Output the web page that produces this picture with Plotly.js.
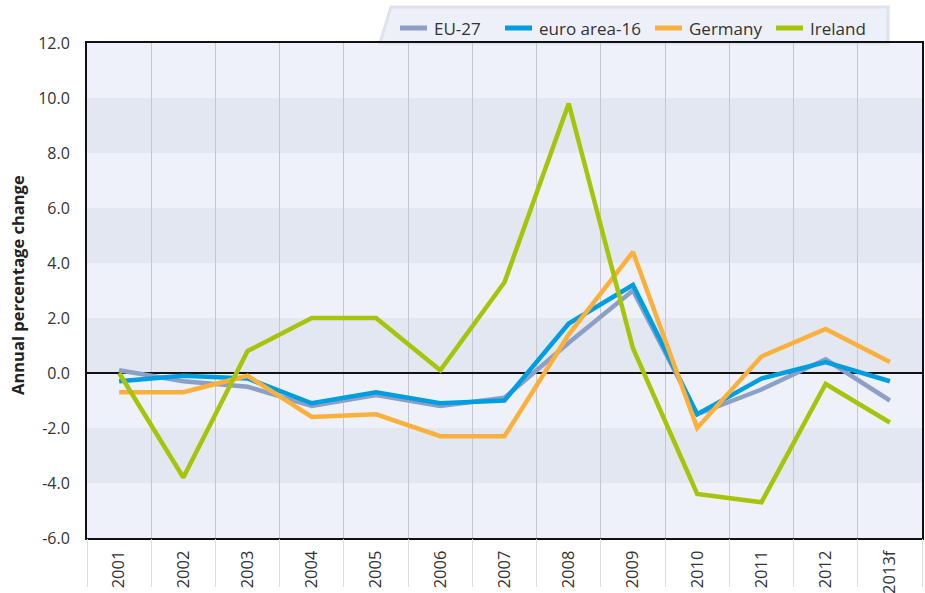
<!DOCTYPE html>
<html>
<head>
<meta charset="utf-8">
<script src="https://cdn.plot.ly/plotly-3.0.1.min.js"></script>
<style>html,body{margin:0;padding:0;background:#fff;}#chart{width:925px;height:593px;}</style>
</head>
<body>
<div id="chart"></div>
<script>
var years = ["2001","2002","2003","2004","2005","2006","2007","2008","2009","2010","2011","2012","2013f"];
var eu27 = [0.1,-0.3,-0.5,-1.2,-0.8,-1.2,-0.9,1.1,3.0,-1.5,-0.6,0.5,-1.0];
var euroArea16 = [-0.3,-0.1,-0.2,-1.1,-0.7,-1.1,-1.0,1.8,3.2,-1.5,-0.2,0.4,-0.3];
var germany = [-0.7,-0.7,-0.1,-1.6,-1.5,-2.3,-2.3,1.4,4.4,-2.0,0.6,1.6,0.4];
var ireland = [0.0,-3.8,0.8,2.0,2.0,0.1,3.3,9.8,0.9,-4.4,-4.7,-0.4,-1.8];
var seriesNames = ["EU-27","euro area-16","Germany","Ireland"];
var yTicks = [-6,-4,-2,0,2,4,6,8,10,12];
var darkBands = [[-4,-2],[0,2],[4,6],[8,10]];

var colors = ["#8c9fc6","#009ee0","#fbb03b","#a6c40a"];
var allSeries = [eu27, euroArea16, germany, ireland];
var font = "'Open Sans', 'DejaVu Sans', sans-serif";

var traces = allSeries.map(function(s, i){
  return {x: years, y: s, type: "scatter", mode: "lines", name: seriesNames[i],
          line: {color: colors[i], width: 4.5}, showlegend:false};
});
// helper trace so the separator axis (x2) is drawn; it has no visible marks
traces.unshift({x: years, y: years.map(function(){return null;}), xaxis:"x2", yaxis:"y",
  type:"scatter", mode:"lines", showlegend:false, hoverinfo:"skip"});

function px(x){return (x-87)/835;}
function py(y){return (538-y)/495;}

var shapes = darkBands.map(function(b){
  return {type:"rect", xref:"paper", yref:"y", x0:0, x1:1, y0:b[0], y1:b[1],
          fillcolor:"#e2e7f1", line:{width:0}, layer:"below"};
});
// legend backdrop (trapezoid above the plot)
shapes.push({type:"path", xref:"paper", yref:"paper",
  path:"M "+px(380)+" "+py(43)+" L "+px(391)+" "+py(7)+" L "+px(888)+" "+py(7)+" L "+px(888)+" "+py(43)+" Z",
  fillcolor:"#edf0f8", line:{color:"#dde2ee", width:3}, layer:"below"});

var annotations = [{text:"<b>Annual percentage change</b>", xref:"paper", yref:"paper",
    x:px(17), y:py(285), xanchor:"center", yanchor:"middle", textangle:-90, showarrow:false,
    font:{family:font, size:16.5, color:"#222"}}];

// manual legend
var legSym = [400, 505, 655, 776];
seriesNames.forEach(function(n, i){
  shapes.push({type:"line", xref:"paper", yref:"paper", x0:px(legSym[i]), x1:px(legSym[i]+27),
    y0:py(28), y1:py(28), line:{color:colors[i], width:5}});
  annotations.push({text:n, xref:"paper", yref:"paper", x:px(legSym[i]+32), y:py(28),
    xanchor:"left", yanchor:"middle", showarrow:false,
    font:{family:font, size:17, color:"#333"}});
});

var layout = {
  width:925, height:593,
  margin:{l:87, r:3, t:43, b:55},
  paper_bgcolor:"#ffffff",
  plot_bgcolor:"#eef1f9",
  font:{family:font, size:16, color:"#333333"},
  showlegend:false,
  xaxis:{type:"category", range:[-0.5,12.5], tickson:"boundaries", showgrid:true,
         gridcolor:"#c3c7d0", gridwidth:1, ticks:"", tickangle:-90, ticklabelstandoff:4,
         showline:true, mirror:true, linecolor:"#111", linewidth:2,
         tickfont:{family:font, size:16.5, color:"#333"}, fixedrange:true},
  xaxis2:{type:"category", range:[-0.5,12.5], overlaying:"x", side:"bottom", anchor:"y",
         tickson:"boundaries", showgrid:false, showticklabels:false,
         ticks:"outside", ticklen:48, tickcolor:"#dcdcdc", tickwidth:1,
         showline:false, zeroline:false, fixedrange:true},
  yaxis:{range:[-6,12], tickvals:yTicks, ticktext:yTicks.map(function(v){return v.toFixed(1);}),
         showgrid:false, zeroline:true, zerolinecolor:"#111", zerolinewidth:1.5,
         showline:true, mirror:true, linecolor:"#111", linewidth:2,
         ticks:"", ticklabelstandoff:12,
         tickfont:{family:font, size:16, color:"#333"}, fixedrange:true},
  shapes:shapes,
  annotations:annotations
};

Plotly.newPlot("chart", traces, layout, {displayModeBar:false, staticPlot:true});
</script>
</body>
</html>
